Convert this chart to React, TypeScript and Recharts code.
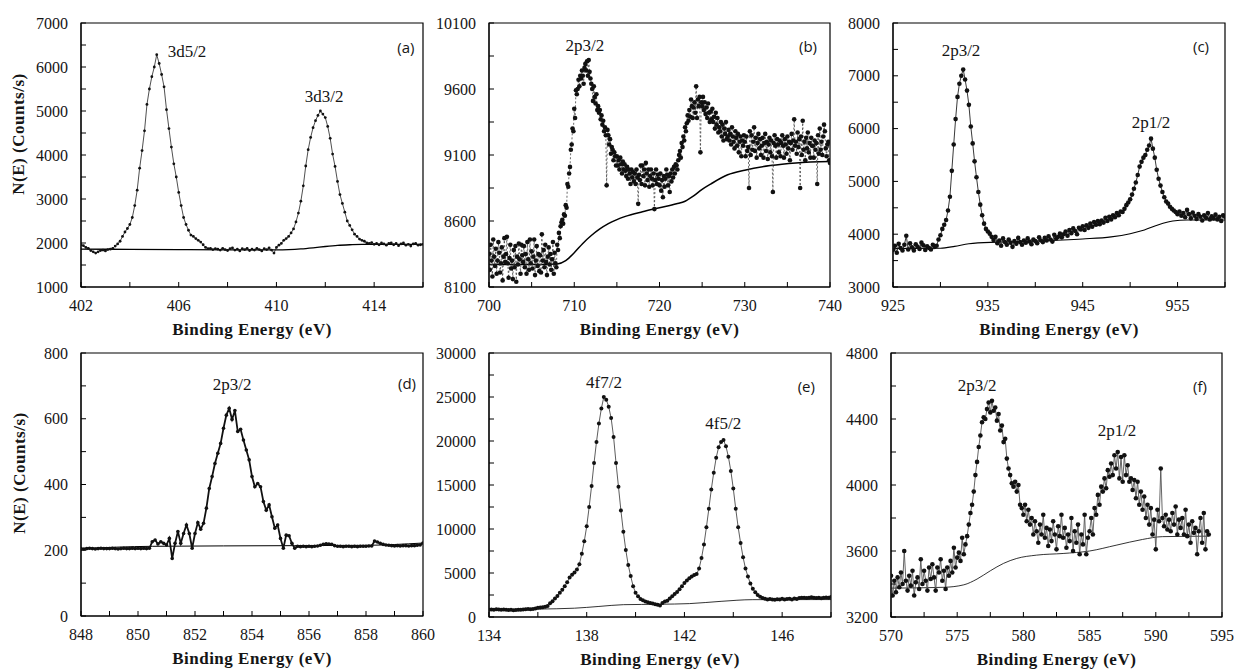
import { LineChart, Line, XAxis, YAxis, ReferenceArea, ReferenceDot } from "recharts";

const SERIF = '"Liberation Serif", "Times New Roman", serif';
const SANS = '"Open Sans", "Noto Sans", sans-serif';
const INK = "#151515";

// ---------- (a) 3d region, 402–416 eV, 0.1 eV step ----------
const aStart = 402;
const aStep = 0.1;
const aCounts = [
  1960, 1940, 1900, 1880, 1830, 1800, 1770, 1800, 1830, 1840, // 402
  1820, 1850, 1860, 1880, 1930, 1980, 2040, 2150, 2250, 2330, // 403
  2420, 2580, 2850, 3200, 3700, 4100, 4550, 5150, 5500, 5780, // 404
  6000, 6280, 6080, 5830, 5550, 5030, 4600, 4180, 3800, 3500, // 405
  3150, 2850, 2580, 2420, 2290, 2180, 2150, 2100, 2060, 2020, // 406
  1960, 1900, 1870, 1880, 1850, 1870, 1860, 1840, 1880, 1850, // 407
  1830, 1870, 1890, 1840, 1860, 1820, 1870, 1850, 1880, 1830, // 408
  1860, 1840, 1880, 1850, 1820, 1870, 1850, 1890, 1840, 1770, // 409
  1900, 1950, 1990, 2060, 2100, 2150, 2230, 2320, 2480, 2680, // 410
  2950, 3300, 3750, 4120, 4400, 4620, 4780, 4900, 5000, 4930, // 411
  4850, 4650, 4380, 4020, 3740, 3400, 3100, 2900, 2700, 2500, // 412
  2400, 2300, 2200, 2150, 2090, 2060, 2040, 2000, 1990, 2010, // 413
  1970, 1990, 1960, 2000, 1980, 1950, 1990, 2000, 1960, 1990, // 414
  1940, 1980, 2000, 1950, 1970, 1930, 1980, 1990, 1950, 1960, // 415
  1970, // 416
];
const aBgEnergy = [402, 404, 406, 408, 410, 410.5, 411, 411.5, 412, 412.5, 413, 413.5, 414, 416];
const aBgCounts = [1860, 1855, 1850, 1845, 1845, 1850, 1865, 1890, 1920, 1945, 1960, 1970, 1970, 1970];
const aXTicks = [402, 404, 406, 408, 410, 412, 414, 416];
const aXLabels = [402, 406, 410, 414];
const aYTicks = [1000, 1500, 2000, 2500, 3000, 3500, 4000, 4500, 5000, 5500, 6000, 6500, 7000];
const aYLabels = [1000, 2000, 3000, 4000, 5000, 6000, 7000];

// ---------- (b) 2p region, 700–740 eV, 0.1 eV step ----------
const bStart = 700;
const bStep = 0.1;
const bCounts = [
  8350, 8230, 8420, 8300, 8180, 8460, 8330, 8260, 8390, 8200, // 700
  8300, 8440, 8360, 8210, 8280, 8400, 8150, 8330, 8470, 8290, // 701
  8350, 8480, 8280, 8170, 8320, 8420, 8240, 8300, 8160, 8380, // 702
  8250, 8410, 8140, 8330, 8270, 8430, 8310, 8200, 8420, 8340, // 703
  8290, 8410, 8250, 8350, 8200, 8440, 8310, 8230, 8460, 8280, // 704
  8370, 8240, 8330, 8460, 8190, 8300, 8410, 8260, 8350, 8220, // 705
  8340, 8210, 8500, 8300, 8380, 8250, 8420, 8290, 8190, 8330, // 706
  8400, 8270, 8350, 8230, 8310, 8440, 8200, 8360, 8280, 8250, // 707
  8420, 8380, 8510, 8470, 8560, 8590, 8610, 8580, 8650, 8640, // 708
  8720, 8700, 8880, 8860, 8960, 9010, 9140, 9180, 9300, 9280, // 709
  9450, 9380, 9590, 9560, 9600, 9670, 9620, 9700, 9680, 9740, // 710
  9700, 9640, 9760, 9790, 9740, 9810, 9700, 9820, 9730, 9680, // 711
  9640, 9600, 9510, 9620, 9540, 9490, 9560, 9440, 9470, 9420, // 712
  9440, 9370, 9400, 9330, 9360, 9280, 9310, 9250, 8870, 9290, // 713
  9250, 9180, 9220, 9110, 9160, 9140, 9060, 9120, 9090, 9020, // 714
  9090, 9020, 9060, 8990, 9080, 9030, 8960, 9050, 8990, 9030, // 715
  8980, 8940, 9010, 8920, 8990, 8960, 8880, 8990, 8930, 8970, // 716
  8900, 8960, 8880, 8990, 8930, 8730, 8950, 8910, 9020, 8880, // 717
  9020, 8940, 8990, 8870, 9040, 8960, 8910, 8990, 8860, 8940, // 718
  8990, 8920, 8870, 8960, 8690, 8910, 8990, 8880, 8950, 8920, // 719
  8870, 8960, 8830, 8910, 8780, 8940, 8860, 8920, 8990, 8950, // 720
  8870, 8940, 8820, 8960, 8900, 8990, 8930, 9010, 8960, 9030, // 721
  9020, 8990, 9060, 9100, 9130, 9080, 9190, 9160, 9240, 9210, // 722
  9310, 9280, 9340, 9400, 9360, 9440, 9390, 9520, 9470, 9380, // 723
  9460, 9500, 9420, 9620, 9380, 9520, 9470, 9540, 9120, 9500, // 724
  9470, 9540, 9440, 9500, 9410, 9460, 9380, 9490, 9420, 9350, // 725
  9430, 9370, 9450, 9350, 9390, 9300, 9420, 9330, 9380, 9270, // 726
  9310, 9280, 9350, 9240, 9330, 9210, 9300, 9260, 9350, 9220, // 727
  9240, 9290, 9210, 9260, 9180, 9310, 9240, 9200, 9150, 9280, // 728
  9230, 9170, 9260, 9120, 9200, 9240, 9090, 9210, 9170, 9250, // 729
  9200, 9090, 9240, 9130, 9160, 8850, 9280, 9100, 9250, 9140, // 730
  9200, 9310, 9130, 9230, 9080, 9190, 9260, 9150, 9220, 9100, // 731
  9170, 9230, 9080, 9190, 9260, 9130, 9200, 9070, 9180, 9230, // 732
  9120, 9210, 9090, 8820, 9190, 9250, 9170, 9080, 9220, 9180, // 733
  9120, 9210, 9090, 9190, 9250, 9170, 9080, 9220, 9180, 9110, // 734
  9240, 9150, 9200, 9060, 9190, 9260, 9140, 9210, 9370, 9170, // 735
  9200, 9110, 9270, 9160, 9220, 8850, 9240, 9100, 9360, 9140, // 736
  9200, 9060, 9230, 9150, 9270, 9120, 9190, 9080, 9230, 9170, // 737
  9170, 9080, 9210, 9140, 9190, 8880, 9250, 9110, 9300, 9140, // 738
  9200, 9100, 9240, 9330, 9280, 9150, 9090, 9180, 9200, 9060, // 739
  9040, // 740
];
const bBgEnergy = [700, 704, 708, 709, 710, 711, 712, 713, 714, 716, 718, 720, 722, 723, 724, 725, 726, 728, 730, 733, 736, 740];
const bBgCounts = [8270, 8270, 8275, 8300, 8360, 8430, 8490, 8540, 8580, 8635, 8670, 8700, 8730, 8750, 8790, 8840, 8880, 8950, 8985, 9020, 9040, 9050];
const bXTicks = [700, 705, 710, 715, 720, 725, 730, 735, 740];
const bXLabels = [700, 710, 720, 730, 740];
const bYTicks = [8100, 8350, 8600, 8850, 9100, 9350, 9600, 9850, 10100];
const bYLabels = [8100, 8600, 9100, 9600, 10100];

// ---------- (c) 2p region, 925–960 eV, 0.2 eV step ----------
const cStart = 925;
const cStep = 0.2;
const cCounts = [
  3700, 3780, 3650, 3820, 3740, 3690, 3800, 3970, 3710, 3830, // 925
  3750, 3690, 3810, 3760, 3720, 3840, 3790, 3700, 3770, 3740, // 927
  3710, 3800, 3760, 3780, 3900, 3980, 4100, 4180, 4270, 4450, // 929
  4710, 5200, 5700, 6180, 6600, 6850, 7000, 7120, 6930, 6720, // 931
  6450, 6040, 5720, 5380, 5080, 4800, 4560, 4360, 4200, 4100, // 933
  4050, 4010, 3950, 3890, 3950, 3830, 3880, 3780, 3920, 3850, // 935
  3800, 3900, 3840, 3760, 3870, 3820, 3930, 3850, 3800, 3880, // 937
  3840, 3920, 3860, 3810, 3900, 3870, 3830, 3940, 3880, 3850, // 939
  3930, 3880, 3960, 3900, 3860, 3990, 3920, 3950, 4010, 3940, // 941
  4000, 4050, 3970, 4080, 4020, 4110, 4060, 4000, 4120, 4090, // 943
  4150, 4080, 4170, 4120, 4200, 4140, 4230, 4180, 4250, 4190, // 945
  4260, 4220, 4310, 4250, 4330, 4280, 4360, 4320, 4400, 4360, // 947
  4430, 4420, 4480, 4550, 4600, 4660, 4750, 4860, 4980, 5120, // 949
  5280, 5370, 5450, 5500, 5600, 5680, 5810, 5620, 5450, 5220, // 951
  5050, 4920, 4800, 4700, 4620, 4580, 4520, 4480, 4450, 4420, // 953
  4380, 4430, 4350, 4400, 4320, 4460, 4380, 4300, 4410, 4350, // 955
  4290, 4380, 4330, 4260, 4360, 4310, 4400, 4280, 4340, 4300, // 957
  4370, 4280, 4330, 4250, 4360, 4330, // 959–960
];
const cBgEnergy = [925, 930, 931.5, 933, 936, 940, 945, 948, 950, 951.5, 953, 954.5, 956, 960];
const cBgCounts = [3730, 3735, 3770, 3820, 3850, 3870, 3910, 3950, 4010, 4080, 4180, 4250, 4270, 4270];
const cXTicks = [925, 930, 935, 940, 945, 950, 955, 960];
const cXLabels = [925, 935, 945, 955];
const cYTicks = [3000, 3500, 4000, 4500, 5000, 5500, 6000, 6500, 7000, 7500, 8000];
const cYLabels = [3000, 4000, 5000, 6000, 7000, 8000];

// ---------- (d) 2p3/2, 848–860 eV, 0.1 eV step ----------
const dStart = 848;
const dStep = 0.1;
const dCounts = [
  205, 204, 205, 206, 205, 204, 205, 206, 205, 205, // 848
  205, 206, 205, 204, 205, 206, 205, 205, 206, 205, // 849
  206, 205, 206, 205, 206, 226, 231, 219, 226, 221, // 850
  216, 236, 175, 221, 257, 221, 251, 277, 251, 206, // 851
  251, 284, 264, 282, 328, 388, 424, 464, 495, 525, // 852
  571, 611, 632, 598, 625, 561, 568, 535, 505, 475, // 853
  424, 393, 403, 393, 348, 322, 338, 302, 267, 277, // 854
  236, 206, 246, 244, 221, 206, 212, 211, 212, 211, // 855
  212, 211, 212, 213, 215, 218, 220, 219, 218, 214, // 856
  212, 212, 211, 212, 212, 211, 212, 211, 212, 212, // 857
  212, 213, 213, 228, 225, 221, 218, 216, 215, 214, // 858
  213, 214, 213, 214, 214, 213, 214, 214, 215, 216, // 859
  222, // 860
];
const dBgEnergy = [848, 850.5, 855.5, 858, 860];
const dBgCounts = [205, 212, 214, 215, 222];
const dXTicks = [848, 849, 850, 851, 852, 853, 854, 855, 856, 857, 858, 859, 860];
const dXLabels = [848, 850, 852, 854, 856, 858, 860];
const dYTicks = [0, 100, 200, 300, 400, 500, 600, 700, 800];
const dYLabels = [0, 200, 400, 600, 800];

// ---------- (e) 4f region, 134–148 eV, 0.1 eV step ----------
const eStart = 134;
const eStep = 0.1;
const eCounts = [
  830, 850, 820, 870, 840, 810, 860, 830, 800, 820, // 134
  760, 800, 830, 810, 850, 870, 900, 880, 920, 960, // 135
  1060, 1090, 1120, 1170, 1250, 1550, 1800, 2100, 2400, 2750, // 136
  3100, 3500, 3950, 4500, 4800, 5050, 5400, 6000, 7200, 8600, // 137
  10300, 12500, 14900, 17500, 19900, 22000, 23700, 25000, 24700, 23900, // 138
  22600, 20450, 17500, 14800, 12100, 9700, 7600, 5900, 4650, 3500, // 139
  2750, 2350, 2050, 1900, 1750, 1680, 1600, 1530, 1450, 1380, // 140
  1320, 1600, 1750, 1850, 2100, 2350, 2600, 2850, 3150, 3500, // 141
  3850, 4150, 4400, 4600, 4780, 4900, 5500, 6700, 8250, 10200, // 142
  12300, 14500, 16400, 18100, 19300, 19900, 20100, 19400, 18200, 16600, // 143
  14600, 12300, 10200, 8400, 6800, 5500, 4600, 3800, 3200, 2800, // 144
  2500, 2300, 2150, 2080, 2000, 2050, 1980, 1950, 2020, 2000, // 145
  2060, 1980, 2050, 2080, 2000, 2100, 2050, 2150, 2200, 2180, // 146
  2150, 2200, 2250, 2180, 2150, 2200, 2130, 2190, 2220, 2180, // 147
  2270, // 148
];
const eBgEnergy = [134, 136, 137.5, 138.5, 139.5, 141, 142.2, 143.5, 144.8, 148];
const eBgCounts = [830, 900, 1000, 1200, 1400, 1450, 1520, 1780, 1970, 1980];
const eXTicks = [134, 136, 138, 140, 142, 144, 146, 148];
const eXLabels = [134, 138, 142, 146];
const eYTicks = [0, 2500, 5000, 7500, 10000, 12500, 15000, 17500, 20000, 22500, 25000, 27500, 30000];
const eYLabels = [0, 5000, 10000, 15000, 20000, 25000, 30000];

// ---------- (f) 2p region, 570–594 eV, 0.125 eV step ----------
const fStart = 570;
const fStep = 0.125;
const fCounts = [
  3450, 3330, 3420, 3350, 3440, 3380, 3470, 3400, // 570
  3600, 3420, 3360, 3450, 3390, 3480, 3330, 3410, // 571
  3440, 3370, 3550, 3400, 3480, 3420, 3360, 3500, // 572
  3430, 3520, 3440, 3360, 3500, 3470, 3550, 3420, // 573
  3480, 3370, 3500, 3450, 3540, 3470, 3620, 3500, // 574
  3560, 3590, 3540, 3680, 3580, 3640, 3690, 3760, // 575
  3830, 3880, 3960, 4060, 4140, 4230, 4300, 4380, // 576
  4410, 4400, 4460, 4500, 4440, 4510, 4450, 4470, // 577
  4390, 4430, 4330, 4360, 4260, 4280, 4160, 4100, // 578
  4060, 4010, 3990, 4020, 3960, 4000, 3880, 3860, // 579
  3820, 3880, 3780, 3850, 3760, 3800, 3700, 3780, // 580
  3720, 3650, 3760, 3700, 3820, 3680, 3740, 3630, // 581
  3730, 3660, 3780, 3700, 3610, 3750, 3690, 3820, // 582
  3680, 3740, 3620, 3700, 3660, 3800, 3600, 3720, // 583
  3650, 3760, 3580, 3700, 3640, 3820, 3580, 3680, // 584
  3720, 3800, 3700, 3860, 3820, 3940, 3880, 3990, // 585
  3960, 4040, 3980, 4090, 4050, 4130, 4060, 4180, // 586
  4100, 4200, 4040, 4170, 4020, 4180, 4060, 4120, // 587
  4020, 4040, 3970, 4030, 3920, 4020, 3880, 3960, // 588
  3850, 3930, 3800, 3880, 3760, 3860, 3700, 3790, // 589
  3610, 3850, 3780, 4100, 3800, 3750, 3820, 3730, // 590
  3790, 3720, 3830, 3760, 3870, 3700, 3790, 3740, // 591
  3800, 3700, 3850, 3690, 3760, 3650, 3780, 3710, // 592
  3740, 3580, 3720, 3800, 3650, 3830, 3610, 3720, // 593
  3700, // 594
];
const fBgEnergy = [570, 574, 575.5, 576.5, 577.5, 578.5, 579.5, 581, 583, 585, 587, 589, 590.5, 594];
const fBgCounts = [3375, 3380, 3395, 3430, 3480, 3525, 3555, 3575, 3585, 3600, 3635, 3670, 3687, 3690];
const fXTicks = [570, 572.5, 575, 577.5, 580, 582.5, 585, 587.5, 590, 592.5, 595];
const fXLabels = [570, 575, 580, 585, 590, 595];
const fYTicks = [3200, 3400, 3600, 3800, 4000, 4200, 4400, 4600, 4800];
const fYLabels = [3200, 3600, 4000, 4400, 4800];

type Pt = { x: number; y: number };
type Note = { text: string; x: number; y: number; sans?: boolean };

const series = (start: number, step: number, counts: number[]): Pt[] =>
  counts.map((y, i) => ({ x: +(start + i * step).toFixed(3), y }));
const pairs = (energy: number[], counts: number[]): Pt[] =>
  energy.map((x, i) => ({ x, y: counts[i] }));

const Y_W = 70;
const X_H = 55;
const M_TOP = 10;
const M_RIGHT = 22;

interface PanelProps {
  box: { l: number; t: number; r: number; b: number };
  data: Pt[];
  bg: Pt[];
  xTicks: number[];
  xLabels: number[];
  yTicks: number[];
  yLabels: number[];
  notes: Note[];
  dotR: number;
  lineColor: string;
  lineWidth: number;
  dash?: string;
  bgWidth: number;
}

function Panel(p: PanelProps) {
  const w = p.box.r - p.box.l + Y_W + M_RIGHT;
  const h = p.box.b - p.box.t + M_TOP + X_H;
  const xMin = p.xTicks[0];
  const xMax = p.xTicks[p.xTicks.length - 1];
  const yMin = p.yTicks[0];
  const yMax = p.yTicks[p.yTicks.length - 1];
  return (
    <div style={{ position: "absolute", left: p.box.l - Y_W, top: p.box.t - M_TOP }}>
      <LineChart width={w} height={h} data={p.data} margin={{ top: M_TOP, right: M_RIGHT, left: 0, bottom: 0 }}>
        <XAxis
          type="number"
          dataKey="x"
          domain={[xMin, xMax]}
          ticks={p.xTicks}
          interval={0}
          allowDataOverflow
          height={X_H}
          tickSize={-5}
          tickMargin={18}
          stroke="#000"
          tickFormatter={(v: number) => (p.xLabels.includes(v) ? String(v) : "")}
          tick={{ fill: INK, fontSize: 16, fontFamily: SERIF }}
          label={{
            value: "Binding Energy (eV)",
            position: "insideBottom",
            offset: 7,
            fill: INK,
            fontSize: 17,
            fontWeight: 700,
            fontFamily: SERIF,
            letterSpacing: 0.5,
          }}
        />
        <YAxis
          type="number"
          domain={[yMin, yMax]}
          ticks={p.yTicks}
          interval={0}
          allowDataOverflow
          width={Y_W}
          tickSize={-5}
          tickMargin={18}
          stroke="#000"
          tickFormatter={(v: number) => (p.yLabels.includes(v) ? String(v) : "")}
          tick={{ fill: INK, fontSize: 16, fontFamily: SERIF }}
        />
        <ReferenceArea x1={xMin} x2={xMax} y1={yMin} y2={yMax} fill="none" stroke="#000" strokeWidth={1.2} />
        <Line
          data={p.bg}
          dataKey="y"
          type="monotone"
          stroke="#000"
          strokeWidth={p.bgWidth}
          dot={false}
          isAnimationActive={false}
        />
        <Line
          dataKey="y"
          type="linear"
          stroke={p.lineColor}
          strokeWidth={p.lineWidth}
          strokeDasharray={p.dash}
          dot={{ r: p.dotR, fill: "#111", stroke: "none" }}
          isAnimationActive={false}
        />
        {p.notes.map((n) => (
          <ReferenceDot
            key={n.text}
            x={n.x}
            y={n.y}
            r={0}
            fill="none"
            stroke="none"
            label={{
              value: n.text,
              position: "center",
              fill: INK,
              fontSize: n.sans ? 15 : 17,
              fontFamily: n.sans ? SANS : SERIF,
            }}
          />
        ))}
      </LineChart>
    </div>
  );
}

const yTitleStyle = (left: number, top: number): React.CSSProperties => ({
  position: "absolute",
  left,
  top,
  transform: "translate(-50%, -50%) rotate(-90deg)",
  whiteSpace: "nowrap",
  fontFamily: SERIF,
  fontWeight: 700,
  fontSize: 17,
  letterSpacing: 0.5,
  color: INK,
});

export default function App() {
  return (
    <div
      style={{
        position: "absolute",
        left: 0,
        top: 0,
        width: 1235,
        height: 670,
        overflow: "hidden",
        background: "#fff",
      }}
    >
      <Panel
        box={{ l: 81, t: 23, r: 423, b: 287 }}
        data={series(aStart, aStep, aCounts)}
        bg={pairs(aBgEnergy, aBgCounts)}
        xTicks={aXTicks}
        xLabels={aXLabels}
        yTicks={aYTicks}
        yLabels={aYLabels}
        dotR={1.4}
        lineColor="#222"
        lineWidth={0.8}
        bgWidth={1.3}
        notes={[
          { text: "3d5/2", x: 406.34, y: 6364 },
          { text: "3d3/2", x: 411.95, y: 5341 },
          { text: "(a)", x: 415.3, y: 6432, sans: true },
        ]}
      />
      <Panel
        box={{ l: 489, t: 23, r: 830, b: 287 }}
        data={series(bStart, bStep, bCounts)}
        bg={pairs(bBgEnergy, bBgCounts)}
        xTicks={bXTicks}
        xLabels={bXLabels}
        yTicks={bYTicks}
        yLabels={bYLabels}
        dotR={2.3}
        lineColor="#444"
        lineWidth={0.8}
        dash="2 2"
        bgWidth={1.5}
        notes={[
          { text: "2p3/2", x: 711.26, y: 9933 },
          { text: "(b)", x: 737.42, y: 9918, sans: true },
        ]}
      />
      <Panel
        box={{ l: 893, t: 23, r: 1225, b: 287 }}
        data={series(cStart, cStep, cCounts)}
        bg={pairs(cBgEnergy, cBgCounts)}
        xTicks={cXTicks}
        xLabels={cXLabels}
        yTicks={cYTicks}
        yLabels={cYLabels}
        dotR={2.3}
        lineColor="#222"
        lineWidth={0.9}
        bgWidth={1.1}
        notes={[
          { text: "2p3/2", x: 932.17, y: 7489 },
          { text: "2p1/2", x: 952.2, y: 6125 },
          { text: "(c)", x: 957.47, y: 7545, sans: true },
        ]}
      />
      <Panel
        box={{ l: 81, t: 353, r: 423, b: 616 }}
        data={series(dStart, dStep, dCounts)}
        bg={pairs(dBgEnergy, dBgCounts)}
        xTicks={dXTicks}
        xLabels={dXLabels}
        yTicks={dYTicks}
        yLabels={dYLabels}
        dotR={1.8}
        lineColor="#111"
        lineWidth={1.8}
        bgWidth={1}
        notes={[
          { text: "2p3/2", x: 853.3, y: 706 },
          { text: "(d)", x: 859.44, y: 706, sans: true },
        ]}
      />
      <Panel
        box={{ l: 489, t: 353, r: 831, b: 617 }}
        data={series(eStart, eStep, eCounts)}
        bg={pairs(eBgEnergy, eBgCounts)}
        xTicks={eXTicks}
        xLabels={eXLabels}
        yTicks={eYTicks}
        yLabels={eYLabels}
        dotR={2}
        lineColor="#333"
        lineWidth={0.8}
        bgWidth={0.8}
        notes={[
          { text: "4f7/2", x: 138.71, y: 26700 },
          { text: "4f5/2", x: 143.59, y: 22040 },
          { text: "(e)", x: 146.99, y: 26130, sans: true },
        ]}
      />
      <Panel
        box={{ l: 891, t: 353, r: 1222, b: 617 }}
        data={series(fStart, fStep, fCounts)}
        bg={pairs(fBgEnergy, fBgCounts)}
        xTicks={fXTicks}
        xLabels={fXLabels}
        yTicks={fYTicks}
        yLabels={fYLabels}
        dotR={2.3}
        lineColor="#555"
        lineWidth={0.9}
        bgWidth={0.8}
        notes={[
          { text: "2p3/2", x: 576.5, y: 4606 },
          { text: "2p1/2", x: 587.07, y: 4333 },
          { text: "(f)", x: 593.34, y: 4594, sans: true },
        ]}
      />
      <div style={yTitleStyle(19, 134)}>N(E) (Counts/s)</div>
      <div style={yTitleStyle(20, 473)}>N(E) (Counts/s)</div>
    </div>
  );
}
